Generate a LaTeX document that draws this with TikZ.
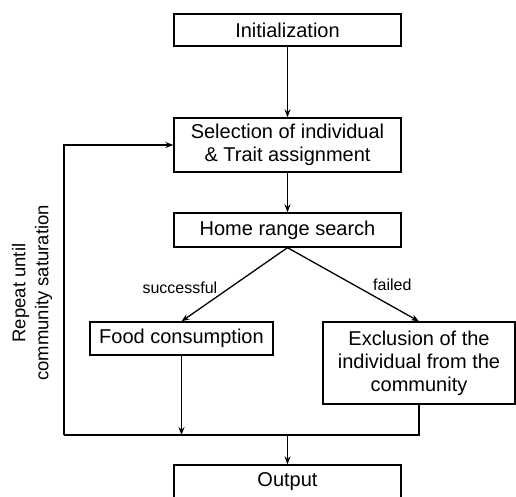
\documentclass[tikz,border=0pt]{standalone}
\usepackage{fontspec}
\setmainfont{Liberation Sans}
\usetikzlibrary{positioning,calc,arrows.meta}
\begin{document}
\begin{tikzpicture}[x=1pt,y=-1pt]
  \tikzstyle{box} = [draw,line width=1.3pt,inner sep=0pt,align=center,font=\fontsize{20}{23}\selectfont]
  \tikzstyle{conn} = [line width=1.3pt]
  \tikzstyle{arr} = [conn,-{Stealth[length=8pt,width=6pt]}]
  \tikzstyle{lbl} = [font=\fontsize{16}{19}\selectfont]
  \useasboundingbox (0,0) rectangle (516,496);
  % boxes
  \node [box,minimum width=227pt,minimum height=32pt] (init) at (287.5,30) {Initialization};
  \node [box,minimum width=227pt,minimum height=54pt] (select) at (287.5,145) {Selection of individual\\\& Trait assignment};
  \node [box,minimum width=227pt,minimum height=34pt] (home) at (287.5,230) {Home range search};
  \node [box,minimum width=183pt,minimum height=33pt] (food) at (181.5,338.5) {Food consumption};
  \node [box,minimum width=192pt,minimum height=82pt] (excl) at (419,363) {Exclusion of the\\individual from the\\community};
  \node [box,minimum width=227pt,minimum height=34pt] (out) at (287.5,482) {Output};
  \node [rotate=90,align=center,font=\fontsize{18.5}{23}\selectfont] (repeat) at (32,293) {Repeat until\\community saturation};
  \coordinate (corner) at (64,435);
  \coordinate (join) at (287.5,435);
  % connectors
  \draw[arr] (init) -- (select);
  \draw[arr] (select) -- (home);
  \draw[arr] (home.south) -- node[lbl,pos=0.55,anchor=east,xshift=-8pt]{successful} (food.north);
  \draw[arr] (home.south) -- node[lbl,pos=0.5,anchor=south west,xshift=16pt,yshift=-10pt]{failed} (excl.north);
  \draw[conn] (excl.south) |- (corner);
  \draw[arr] (corner) |- (select.west);
  \draw[arr] (food.south) -- (food.south |- join);
  \draw[arr] (join) -- (out);
\end{tikzpicture}
\end{document}
